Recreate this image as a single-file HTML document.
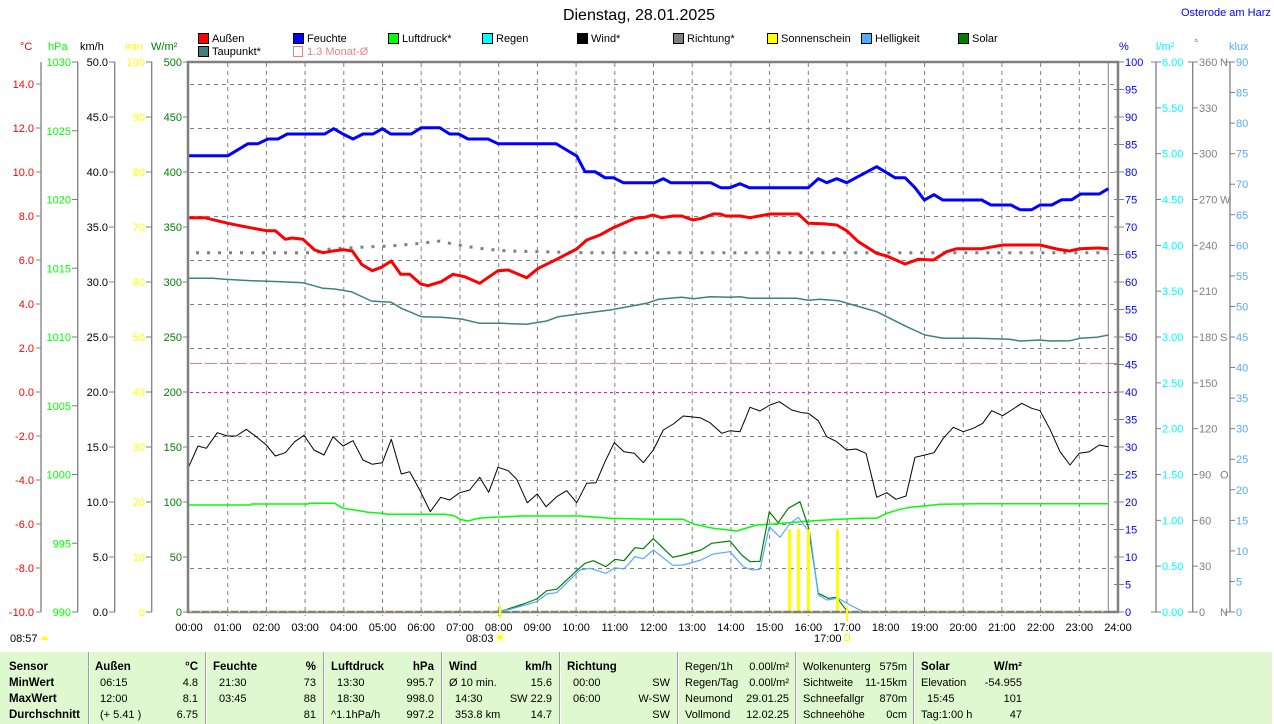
<!DOCTYPE html>
<html><head><meta charset="utf-8"><style>
html,body{margin:0;padding:0;background:#fff;}
svg{display:block;}
text{font-family:"Liberation Sans",sans-serif;}
</style></head><body>
<svg width="1274" height="724" viewBox="0 0 1274 724" xmlns="http://www.w3.org/2000/svg">
<rect x="0" y="0" width="1274" height="724" fill="#fff"/>
<!-- title -->
<text x="639" y="20" font-size="16" text-anchor="middle" fill="#000">Dienstag, 28.01.2025</text>
<text x="1181" y="16" font-size="11" fill="#0000ff">Osterode am Harz</text>

<!-- legend -->
<g font-size="11">
<rect x="198.5" y="33.5" width="10" height="10" fill="#ff0000" stroke="#000"/><text x="212" y="42" fill="#000">Außen</text>
<rect x="293.5" y="33.5" width="10" height="10" fill="#0000ff" stroke="#000"/><text x="307" y="42" fill="#000">Feuchte</text>
<rect x="388.5" y="33.5" width="10" height="10" fill="#00ff00" stroke="#000"/><text x="402" y="42" fill="#000">Luftdruck*</text>
<rect x="482.5" y="33.5" width="10" height="10" fill="#00ffff" stroke="#000"/><text x="496" y="42" fill="#000">Regen</text>
<rect x="577.5" y="33.5" width="10" height="10" fill="#000" stroke="#000"/><text x="591" y="42" fill="#000">Wind*</text>
<rect x="673.5" y="33.5" width="10" height="10" fill="#808080" stroke="#000"/><text x="687" y="42" fill="#000">Richtung*</text>
<rect x="767.5" y="33.5" width="10" height="10" fill="#ffff00" stroke="#000"/><text x="781" y="42" fill="#000">Sonnenschein</text>
<rect x="861.5" y="33.5" width="10" height="10" fill="#55aaff" stroke="#000"/><text x="875" y="42" fill="#000">Helligkeit</text>
<rect x="958.5" y="33.5" width="10" height="10" fill="#008000" stroke="#000"/><text x="972" y="42" fill="#000">Solar</text>
<rect x="198.5" y="46.5" width="10" height="10" fill="#408080" stroke="#000"/><text x="212" y="55" fill="#000">Taupunkt*</text>
<rect x="293.5" y="46.5" width="9" height="10" fill="none" stroke="#f08080"/><text x="307" y="55" fill="#f08080">1.3 Monat-Ø</text>
</g>

<!-- unit labels -->
<g font-size="11">
<text x="20" y="50" fill="#ff0000">°C</text>
<text x="48" y="50" fill="#00ff00">hPa</text>
<text x="80" y="50" fill="#000">km/h</text>
<text x="125" y="50" fill="#ffff00">min</text>
<text x="151" y="50" fill="#008000">W/m²</text>
<text x="1119" y="50" fill="#0000ff">%</text>
<text x="1156" y="50" fill="#00ffff">l/m²</text>
<text x="1194" y="47" fill="#808080">°</text>
<text x="1229" y="50" fill="#55aaff">klux</text>
</g>

<!-- left axes lines -->
<g stroke="#808080" stroke-width="1.3">
<line x1="41" y1="62" x2="41" y2="612"/>
<line x1="77.7" y1="62" x2="77.7" y2="612"/>
<line x1="114.7" y1="62" x2="114.7" y2="612"/>
<line x1="151.7" y1="62" x2="151.7" y2="612"/>
<line x1="1156" y1="62" x2="1156" y2="612"/>
<line x1="1192.7" y1="62" x2="1192.7" y2="612"/>
<line x1="1230" y1="62" x2="1230" y2="612"/>
</g>

<!-- °C axis -->
<g stroke="#808080" stroke-width="1">
<path d="M36 84H41M36 128H41M36 172H41M36 216H41M36 260H41M36 304H41M36 348H41M36 392H41M36 436H41M36 480H41M36 524H41M36 568H41M36 612H41"/>
<path d="M72 62H78M72 130.75H78M72 199.5H78M72 268.25H78M72 337H78M72 405.75H78M72 474.5H78M72 543.25H78M72 612H78"/>
<path d="M109 62H115M109 117H115M109 172H115M109 227H115M109 282H115M109 337H115M109 392H115M109 447H115M109 502H115M109 557H115M109 612H115"/>
<path d="M146 62H152M146 117H152M146 172H152M146 227H152M146 282H152M146 337H152M146 392H152M146 447H152M146 502H152M146 557H152M146 612H152"/>
<path d="M183 62H188M183 117H188M183 172H188M183 227H188M183 282H188M183 337H188M183 392H188M183 447H188M183 502H188M183 557H188M183 612H188"/>
</g>
<g font-size="11" fill="#ff0000" text-anchor="end">
<text x="34" y="88">14.0</text><text x="34" y="132">12.0</text><text x="34" y="176">10.0</text><text x="34" y="220">8.0</text><text x="34" y="264">6.0</text><text x="34" y="308">4.0</text><text x="34" y="352">2.0</text><text x="34" y="396">0.0</text><text x="34" y="440">-2.0</text><text x="34" y="484">-4.0</text><text x="34" y="528">-6.0</text><text x="34" y="572">-8.0</text><text x="34" y="616">-10.0</text>
</g>
<g font-size="11" fill="#00ff00" text-anchor="end">
<text x="71" y="66">1030</text><text x="71" y="134.75">1025</text><text x="71" y="203.5">1020</text><text x="71" y="272.25">1015</text><text x="71" y="341">1010</text><text x="71" y="409.75">1005</text><text x="71" y="478.5">1000</text><text x="71" y="547.25">995</text><text x="71" y="616">990</text>
</g>
<g font-size="11" fill="#000" text-anchor="end">
<text x="108" y="66">50.0</text><text x="108" y="121">45.0</text><text x="108" y="176">40.0</text><text x="108" y="231">35.0</text><text x="108" y="286">30.0</text><text x="108" y="341">25.0</text><text x="108" y="396">20.0</text><text x="108" y="451">15.0</text><text x="108" y="506">10.0</text><text x="108" y="561">5.0</text><text x="108" y="616">0.0</text>
</g>
<g font-size="11" fill="#ffff00" text-anchor="end">
<text x="145" y="66">100</text><text x="145" y="121">90</text><text x="145" y="176">80</text><text x="145" y="231">70</text><text x="145" y="286">60</text><text x="145" y="341">50</text><text x="145" y="396">40</text><text x="145" y="451">30</text><text x="145" y="506">20</text><text x="145" y="561">10</text><text x="145" y="616">0</text>
</g>
<g font-size="11" fill="#008000" text-anchor="end">
<text x="182" y="66">500</text><text x="182" y="121">450</text><text x="182" y="176">400</text><text x="182" y="231">350</text><text x="182" y="286">300</text><text x="182" y="341">250</text><text x="182" y="396">200</text><text x="182" y="451">150</text><text x="182" y="506">100</text><text x="182" y="561">50</text><text x="182" y="616">0</text>
</g>

<!-- right axes ticks -->
<g stroke="#808080" stroke-width="1">
<path d="M1118 62H1124M1118 89.5H1124M1118 117H1124M1118 144.5H1124M1118 172H1124M1118 199.5H1124M1118 227H1124M1118 254.5H1124M1118 282H1124M1118 309.5H1124M1118 337H1124M1118 364.5H1124M1118 392H1124M1118 419.5H1124M1118 447H1124M1118 474.5H1124M1118 502H1124M1118 529.5H1124M1118 557H1124M1118 584.5H1124M1118 612H1124"/>
<path d="M1114 89.5H1118M1114 117H1118M1114 144.5H1118M1114 172H1118M1114 199.5H1118M1114 227H1118M1114 254.5H1118M1114 282H1118M1114 309.5H1118M1114 337H1118M1114 364.5H1118M1114 392H1118M1114 419.5H1118M1114 447H1118M1114 474.5H1118M1114 502H1118M1114 529.5H1118M1114 557H1118M1114 584.5H1118"/>
<path d="M1151 62H1161M1156 107.83H1161M1156 153.67H1161M1156 199.5H1161M1156 245.33H1161M1156 291.17H1161M1156 337H1161M1156 382.83H1161M1156 428.67H1161M1156 474.5H1161M1156 520.33H1161M1156 566.17H1161M1151 612H1161"/>
<path d="M1188 62H1198M1193 107.83H1198M1193 153.67H1198M1193 199.5H1198M1193 245.33H1198M1193 291.17H1198M1193 337H1198M1193 382.83H1198M1193 428.67H1198M1193 474.5H1198M1193 520.33H1198M1193 566.17H1198M1188 612H1198"/>
<path d="M1225 62H1235M1230 92.56H1235M1230 123.11H1235M1230 153.67H1235M1230 184.22H1235M1230 214.78H1235M1230 245.33H1235M1230 275.89H1235M1230 306.44H1235M1230 337H1235M1230 367.56H1235M1230 398.11H1235M1230 428.67H1235M1230 459.22H1235M1230 489.78H1235M1230 520.33H1235M1230 550.89H1235M1230 581.44H1235M1225 612H1235"/>
</g>
<g font-size="11" fill="#0000ff">
<text x="1125" y="66">100</text><text x="1125" y="93.5">95</text><text x="1125" y="121">90</text><text x="1125" y="148.5">85</text><text x="1125" y="176">80</text><text x="1125" y="203.5">75</text><text x="1125" y="231">70</text><text x="1125" y="258.5">65</text><text x="1125" y="286">60</text><text x="1125" y="313.5">55</text><text x="1125" y="341">50</text><text x="1125" y="368.5">45</text><text x="1125" y="396">40</text><text x="1125" y="423.5">35</text><text x="1125" y="451">30</text><text x="1125" y="478.5">25</text><text x="1125" y="506">20</text><text x="1125" y="533.5">15</text><text x="1125" y="561">10</text><text x="1125" y="588.5">5</text><text x="1125" y="616">0</text>
</g>
<g font-size="11" fill="#00ffff">
<text x="1162" y="66">6.00</text><text x="1162" y="111.83">5.50</text><text x="1162" y="157.67">5.00</text><text x="1162" y="203.5">4.50</text><text x="1162" y="249.33">4.00</text><text x="1162" y="295.17">3.50</text><text x="1162" y="341">3.00</text><text x="1162" y="386.83">2.50</text><text x="1162" y="432.67">2.00</text><text x="1162" y="478.5">1.50</text><text x="1162" y="524.33">1.00</text><text x="1162" y="570.17">0.50</text><text x="1162" y="616">0.00</text>
</g>
<g font-size="11" fill="#808080">
<text x="1199" y="66">360</text><text x="1220" y="66">N</text>
<text x="1199" y="111.83">330</text><text x="1199" y="157.67">300</text>
<text x="1199" y="203.5">270</text><text x="1220" y="203.5">W</text>
<text x="1199" y="249.33">240</text><text x="1199" y="295.17">210</text>
<text x="1199" y="341">180</text><text x="1220" y="341">S</text>
<text x="1199" y="386.83">150</text><text x="1199" y="432.67">120</text>
<text x="1199" y="478.5">90</text><text x="1220" y="478.5">O</text>
<text x="1199" y="524.33">60</text><text x="1199" y="570.17">30</text>
<text x="1199" y="616">0</text><text x="1220" y="616">N</text>
</g>
<g font-size="11" fill="#55aaff">
<text x="1236" y="66">90</text><text x="1236" y="96.56">85</text><text x="1236" y="127.11">80</text><text x="1236" y="157.67">75</text><text x="1236" y="188.22">70</text><text x="1236" y="218.78">65</text><text x="1236" y="249.33">60</text><text x="1236" y="279.89">55</text><text x="1236" y="310.44">50</text><text x="1236" y="341">45</text><text x="1236" y="371.56">40</text><text x="1236" y="402.11">35</text><text x="1236" y="432.67">30</text><text x="1236" y="463.22">25</text><text x="1236" y="493.78">20</text><text x="1236" y="524.33">15</text><text x="1236" y="554.89">10</text><text x="1236" y="585.44">5</text><text x="1236" y="616">0</text>
</g>

<!-- grid -->
<g stroke="#808080" stroke-width="1" stroke-dasharray="4 4">
<path d="M190 84.5H1118M190 128.5H1118M190 172.5H1118M190 216.5H1118M190 260.5H1118M190 304.5H1118M190 348.5H1118M190 436.5H1118M190 480.5H1118M190 524.5H1118M190 568.5H1118"/>
<path d="M227.7 63V616M266.4 63V616M305.1 63V616M343.8 63V616M382.5 63V616M421.2 63V616M460 63V616M498.7 63V616M537.4 63V616M576.1 63V616M614.8 63V616M653.5 63V616M692.2 63V616M730.9 63V616M769.6 63V616M808.3 63V616M847 63V616M885.7 63V616M924.5 63V616M963.2 63V616M1001.9 63V616M1040.6 63V616M1079.3 63V616"/>
</g>
<line x1="190" y1="363.5" x2="1118" y2="363.5" stroke="#f08080" stroke-width="1" stroke-dasharray="12 3"/>
<line x1="190" y1="392.5" x2="1118" y2="392.5" stroke="#ff00ff" stroke-width="1" stroke-dasharray="3 3"/>
<line x1="1108.3" y1="62" x2="1108.3" y2="612" stroke="#808080" stroke-width="1"/>

<!-- series -->
<g fill="none" stroke-linejoin="round">
<polyline stroke="#00ff00" stroke-width="1.5" points="188,505 250.7,505 251.3,504 308,504 309.7,503.3 334.7,503.3 343,508.3 354.7,510 368,512.3 381.3,513.3 388,514.3 444.7,514.3 454.7,516 459.7,519.3 468,521 478,518.3 493.3,517.3 521.7,516 580,516 610,518.3 653.3,519.3 683.3,519.3 693.3,524 713.3,528.3 736.7,531 743.3,529 756.7,525 773.3,524 813.3,520.7 840,519.3 860,518.3 876.7,518.3 886.7,513.3 900,509.3 910,507.3 926.7,505.7 940,504.3 978.3,503.7 1108.3,503.7"/>
<polyline stroke="#408080" stroke-width="1.5" points="188,278.3 213,278.3 224.7,279.3 251.3,280.7 281.3,281.7 303,282.7 323,288.3 334.7,289 351.3,291.7 371.3,301 391.3,302.3 401.3,308.3 421.3,316.7 441.3,317.3 461.3,319 479.7,323.3 501.3,323.3 526.7,324.3 546.7,321 558.3,316.7 576.7,314.3 610,310 646.7,303.3 658.3,299.3 681.7,297.3 693.3,298.7 710,296.7 730,297.3 740,296.7 750,298.3 796.7,298.3 808.3,300.3 820,299.3 838.3,300.7 853.3,305 876.7,311.7 886.7,316.7 906.7,326.7 925,335 943.3,338.3 976.7,338.3 1010,339.3 1020,341 1040,340 1050,341 1070,340.7 1080,338.3 1096.7,337.3 1108.3,335"/>
<polyline stroke="#000" stroke-width="1" points="188,468.3 198,446 206.3,448.3 217.3,432.7 227.3,436 236.3,436 246.3,429.3 256.3,436.7 266.3,445 275.3,456 285.3,452.7 294.7,441.7 304,435.3 314,450 324,455 333,436.7 343,446 353,440.7 363,460 372.3,464.3 382.3,462.7 391.3,439.3 401.3,474 409.7,471.7 419.7,490 430.3,511.7 440.7,497.3 449.7,500 459.7,492.7 469.7,490 479.7,477.3 488.7,492.3 498,467.3 508.3,470.7 516.7,479.3 527.3,502.7 537.3,494 546,506.7 556.7,496.7 566.7,490.7 576.7,502.7 586.7,483.3 596,482.7 605,461.7 614.3,442.7 624,451.7 634.3,453.3 643.3,462.7 653.3,450 663.3,430 673.3,424 683.3,416 700,417.7 710,422.7 721.7,433.3 730,430.7 740,431.7 750,407.3 760,411 770,405 779.3,401.7 791.7,410 801.7,412.7 808.3,413.3 818.3,420.7 826.7,436.7 836.7,441.7 846.7,450 856,449 866,453.3 876.7,497.3 886.7,492.7 896,499.3 906,496 915,457.3 925,455 934,452.7 943.3,438.3 953.3,427.3 963.3,431.7 973.3,428.3 982.7,423.3 991.7,410.7 1002.7,415.7 1011.7,410 1021.7,403.3 1031.7,408.3 1040,410.7 1050,429.3 1060,451.7 1070,465 1079.3,453.3 1089.3,451.7 1099.3,445 1108.3,446.7"/>
<polyline stroke="#008000" stroke-width="1.2" points="493.3,611.7 500,611.7 510,608.3 523.3,604 536.7,599 546.7,590.7 556.7,589.3 576.7,570.7 585,563.3 593.3,560.7 606,566.7 615,559.3 624,560.7 635,547.7 643.3,548.7 653.3,538.7 672.7,557.3 683.3,555 701,550 711.7,543.3 730,541 741.7,555 750,561.7 760,561.3 769.3,511.7 778.3,522.7 788.3,508.3 800,501.7 808.3,526.7 818.3,593.3 828.3,598.3 836.7,597.3 846.7,610.7"/>
<polyline stroke="#55aaff" stroke-width="1.2" points="493.3,611.7 510,609.3 523.3,605.5 536.7,601.7 546.7,594 556.7,592.7 580,570 590,568.3 606,573.3 615,567.7 624,569 635,556.7 643.3,558.7 653.3,550 672.7,565.3 683.3,565 701,560 713.3,554 730,551.7 743.3,566.7 751.7,570 760,569.3 769.3,526.7 780,537.3 790,523.3 798.3,517.3 810,533.3 818.3,595 826.7,600 838.3,598.3 850,605 863.3,611.7"/>
<polyline stroke="#808080" stroke-width="3" stroke-dasharray="3 8" stroke-linejoin="miter" points="196,252.7 316,252.7 330,249 360,247.3 390,246 421,243.3 440,241 450,243.3 468,246.7 488,249.3 508,251 585,252.7 1108,252.7"/>
<polyline stroke="#0000ff" stroke-width="3" points="188,155.7 228,155.7 248,143.7 258,143.7 268,139 278,139 287.3,134 324.7,134 333.7,128.7 343,134 353,139 363,134 373,134 382.3,128.7 390.7,134 411.3,134 421.3,127.7 439.7,127.7 449.7,134 458.7,134 468,139 488,139 498,143.7 556,143.7 576.7,156 585,171.7 595,171.7 605,177.7 613.3,177.7 623.3,182.7 654.3,182.7 663.3,178.7 670.7,182.7 710.7,182.7 720.7,187.7 730,187.7 740,183.7 749.3,187.7 808.3,187.7 818.3,178.7 826.7,182.7 836.7,178.7 846.7,182.7 876.7,166.7 895,177.7 905,177.7 915,187.7 924.3,200 934,194.7 942.7,200 981.7,200 991,205 1011,205 1020,209.7 1031.7,209.7 1040,205 1051.7,205 1061.7,199.7 1071.7,199.7 1080.7,194 1099.3,194 1108.3,188.7"/>
<polyline stroke="#ff0000" stroke-width="3" points="188,217.7 204.7,217.7 228,223.3 248,227.3 266.3,230.7 275.3,230.7 285.3,239.3 292,238 303,239.3 314.7,250 323,252.7 334.7,250.7 343,249.7 352.3,251 362,264.7 372.3,270.7 381.3,267.3 391.3,261 400.7,274.3 409.7,274.3 420.7,284 428,285.7 441.3,281.7 453,274.3 464.7,276.7 479.7,283.3 498,270.7 508.3,270 526.7,277.7 538.3,268.3 556.7,259.3 576.7,249 586.7,240 600,235 613.3,227.7 635,218.3 645,217.3 652.7,215 661.7,217.7 673.3,216 681.7,216 692.7,220 701.7,218.3 713.3,214 720,214 726,216 740,216 750,217.7 770,214 798.3,214 808.3,223.3 823.3,223.7 836.7,225 846.7,230.7 858.3,241.7 876.7,253.3 886.7,256 905,264 918.3,259.3 933.3,260 946.7,251.7 956.7,248.7 981.7,248.7 1003.3,245 1040,245 1056.7,249 1069.3,251 1080,248.7 1098.3,248 1108.3,248.7"/>
</g>

<!-- sunshine bars -->
<g fill="#ffff00">
<rect x="788" y="529.3" width="3" height="82.7"/>
<rect x="797" y="529.3" width="3" height="82.7"/>
<rect x="807" y="529.3" width="3" height="82.7"/>
<rect x="836" y="529.3" width="3" height="82.7"/>
</g>

<!-- plot borders -->
<g stroke="#808080" stroke-width="2.5" fill="none">
<line x1="188" y1="61" x2="188" y2="613"/>
<line x1="187" y1="62" x2="1119" y2="62"/>
<line x1="1118" y1="61" x2="1118" y2="613"/>
<line x1="187" y1="612" x2="1119" y2="612"/>
</g>
<line x1="190" y1="611.5" x2="1108" y2="611.5" stroke="#ffff00" stroke-width="1.2" stroke-dasharray="1.5 8.2"/>
<line x1="500" y1="605" x2="500" y2="618" stroke="#ffff00" stroke-width="2"/>
<line x1="847" y1="606" x2="847" y2="621" stroke="#ffff00" stroke-width="2"/>

<!-- x-axis labels -->
<g font-size="11" fill="#000" text-anchor="middle">
<text x="189" y="631">00:00</text><text x="227.7" y="631">01:00</text><text x="266.4" y="631">02:00</text><text x="305.1" y="631">03:00</text><text x="343.8" y="631">04:00</text><text x="382.5" y="631">05:00</text><text x="421.2" y="631">06:00</text><text x="460" y="631">07:00</text><text x="498.7" y="631">08:00</text><text x="537.4" y="631">09:00</text><text x="576.1" y="631">10:00</text><text x="614.8" y="631">11:00</text><text x="653.5" y="631">12:00</text><text x="692.2" y="631">13:00</text><text x="730.9" y="631">14:00</text><text x="769.6" y="631">15:00</text><text x="808.3" y="631">16:00</text><text x="847" y="631">17:00</text><text x="885.7" y="631">18:00</text><text x="924.5" y="631">19:00</text><text x="963.2" y="631">20:00</text><text x="1001.9" y="631">21:00</text><text x="1040.6" y="631">22:00</text><text x="1079.3" y="631">23:00</text><text x="1118" y="631">24:00</text>
</g>
<g font-size="11" fill="#000">
<text x="10" y="642">08:57</text>
<text x="466" y="642">08:03</text>
<text x="814" y="642">17:00</text>
</g>
<path d="M41 640 A3.5 3.5 0 0 1 48 640 Z" fill="#ffff00"/>
<circle cx="500" cy="637.5" r="2.5" fill="#ffff00"/>
<g stroke="#ffff00" stroke-width="1"><path d="M500 632V634M500 641V643M495 637.5H497M503 637.5H505M496.5 634L497.5 635M503.5 634L502.5 635M496.5 641L497.5 640M503.5 641L502.5 640"/></g>
<rect x="844.5" y="634.5" width="5" height="6" fill="none" stroke="#ffff00"/>

<!-- table -->
<rect x="0" y="652" width="1272" height="72" fill="#e0f8d0"/>
<g stroke="#a0a0a0" stroke-width="1">
<path d="M88.5 652V724M205.5 652V724M323.5 652V724M441.5 652V724M559.5 652V724M677.5 652V724M795.5 652V724M913.5 652V724"/>
</g>
<g stroke="#ffffff" stroke-width="1">
<path d="M89.5 652V724M206.5 652V724M324.5 652V724M442.5 652V724M560.5 652V724M678.5 652V724M796.5 652V724M914.5 652V724"/>
</g>
<g font-size="11.5" font-weight="bold" fill="#000">
<text x="9" y="670">Sensor</text><text x="9" y="686">MinWert</text><text x="9" y="702">MaxWert</text><text x="9" y="718">Durchschnitt</text>
<text x="95" y="670">Außen</text><text x="198" y="670" text-anchor="end">°C</text>
<text x="213" y="670">Feuchte</text><text x="316" y="670" text-anchor="end">%</text>
<text x="331" y="670">Luftdruck</text><text x="434" y="670" text-anchor="end">hPa</text>
<text x="449" y="670">Wind</text><text x="552" y="670" text-anchor="end">km/h</text>
<text x="567" y="670">Richtung</text>
<text x="921" y="670">Solar</text><text x="1022" y="670" text-anchor="end">W/m²</text>
</g>
<g font-size="11" fill="#000">
<text x="100" y="686">06:15</text><text x="198" y="686" text-anchor="end">4.8</text>
<text x="100" y="702">12:00</text><text x="198" y="702" text-anchor="end">8.1</text>
<text x="100" y="718">(+ 5.41 )</text><text x="198" y="718" text-anchor="end">6.75</text>
<text x="219" y="686">21:30</text><text x="316" y="686" text-anchor="end">73</text>
<text x="219" y="702">03:45</text><text x="316" y="702" text-anchor="end">88</text>
<text x="316" y="718" text-anchor="end">81</text>
<text x="337" y="686">13:30</text><text x="434" y="686" text-anchor="end">995.7</text>
<text x="337" y="702">18:30</text><text x="434" y="702" text-anchor="end">998.0</text>
<text x="331" y="718">^1.1hPa/h</text><text x="434" y="718" text-anchor="end">997.2</text>
<text x="449" y="686">Ø 10 min.</text><text x="552" y="686" text-anchor="end">15.6</text>
<text x="455" y="702">14:30</text><text x="552" y="702" text-anchor="end">SW 22.9</text>
<text x="455" y="718">353.8 km</text><text x="552" y="718" text-anchor="end">14.7</text>
<text x="573" y="686">00:00</text><text x="670" y="686" text-anchor="end">SW</text>
<text x="573" y="702">06:00</text><text x="670" y="702" text-anchor="end">W-SW</text>
<text x="670" y="718" text-anchor="end">SW</text>
<text x="685" y="670">Regen/1h</text><text x="789" y="670" text-anchor="end">0.00l/m²</text>
<text x="685" y="686">Regen/Tag</text><text x="789" y="686" text-anchor="end">0.00l/m²</text>
<text x="685" y="702">Neumond</text><text x="789" y="702" text-anchor="end">29.01.25</text>
<text x="685" y="718">Vollmond</text><text x="789" y="718" text-anchor="end">12.02.25</text>
<text x="803" y="670">Wolkenunterg</text><text x="907" y="670" text-anchor="end">575m</text>
<text x="803" y="686">Sichtweite</text><text x="907" y="686" text-anchor="end">11-15km</text>
<text x="803" y="702">Schneefallgr</text><text x="907" y="702" text-anchor="end">870m</text>
<text x="803" y="718">Schneehöhe</text><text x="907" y="718" text-anchor="end">0cm</text>
<text x="921" y="686">Elevation</text><text x="1022" y="686" text-anchor="end">-54.955</text>
<text x="927" y="702">15:45</text><text x="1022" y="702" text-anchor="end">101</text>
<text x="921" y="718">Tag:1:00 h</text><text x="1022" y="718" text-anchor="end">47</text>
</g>
</svg>
</body></html>
